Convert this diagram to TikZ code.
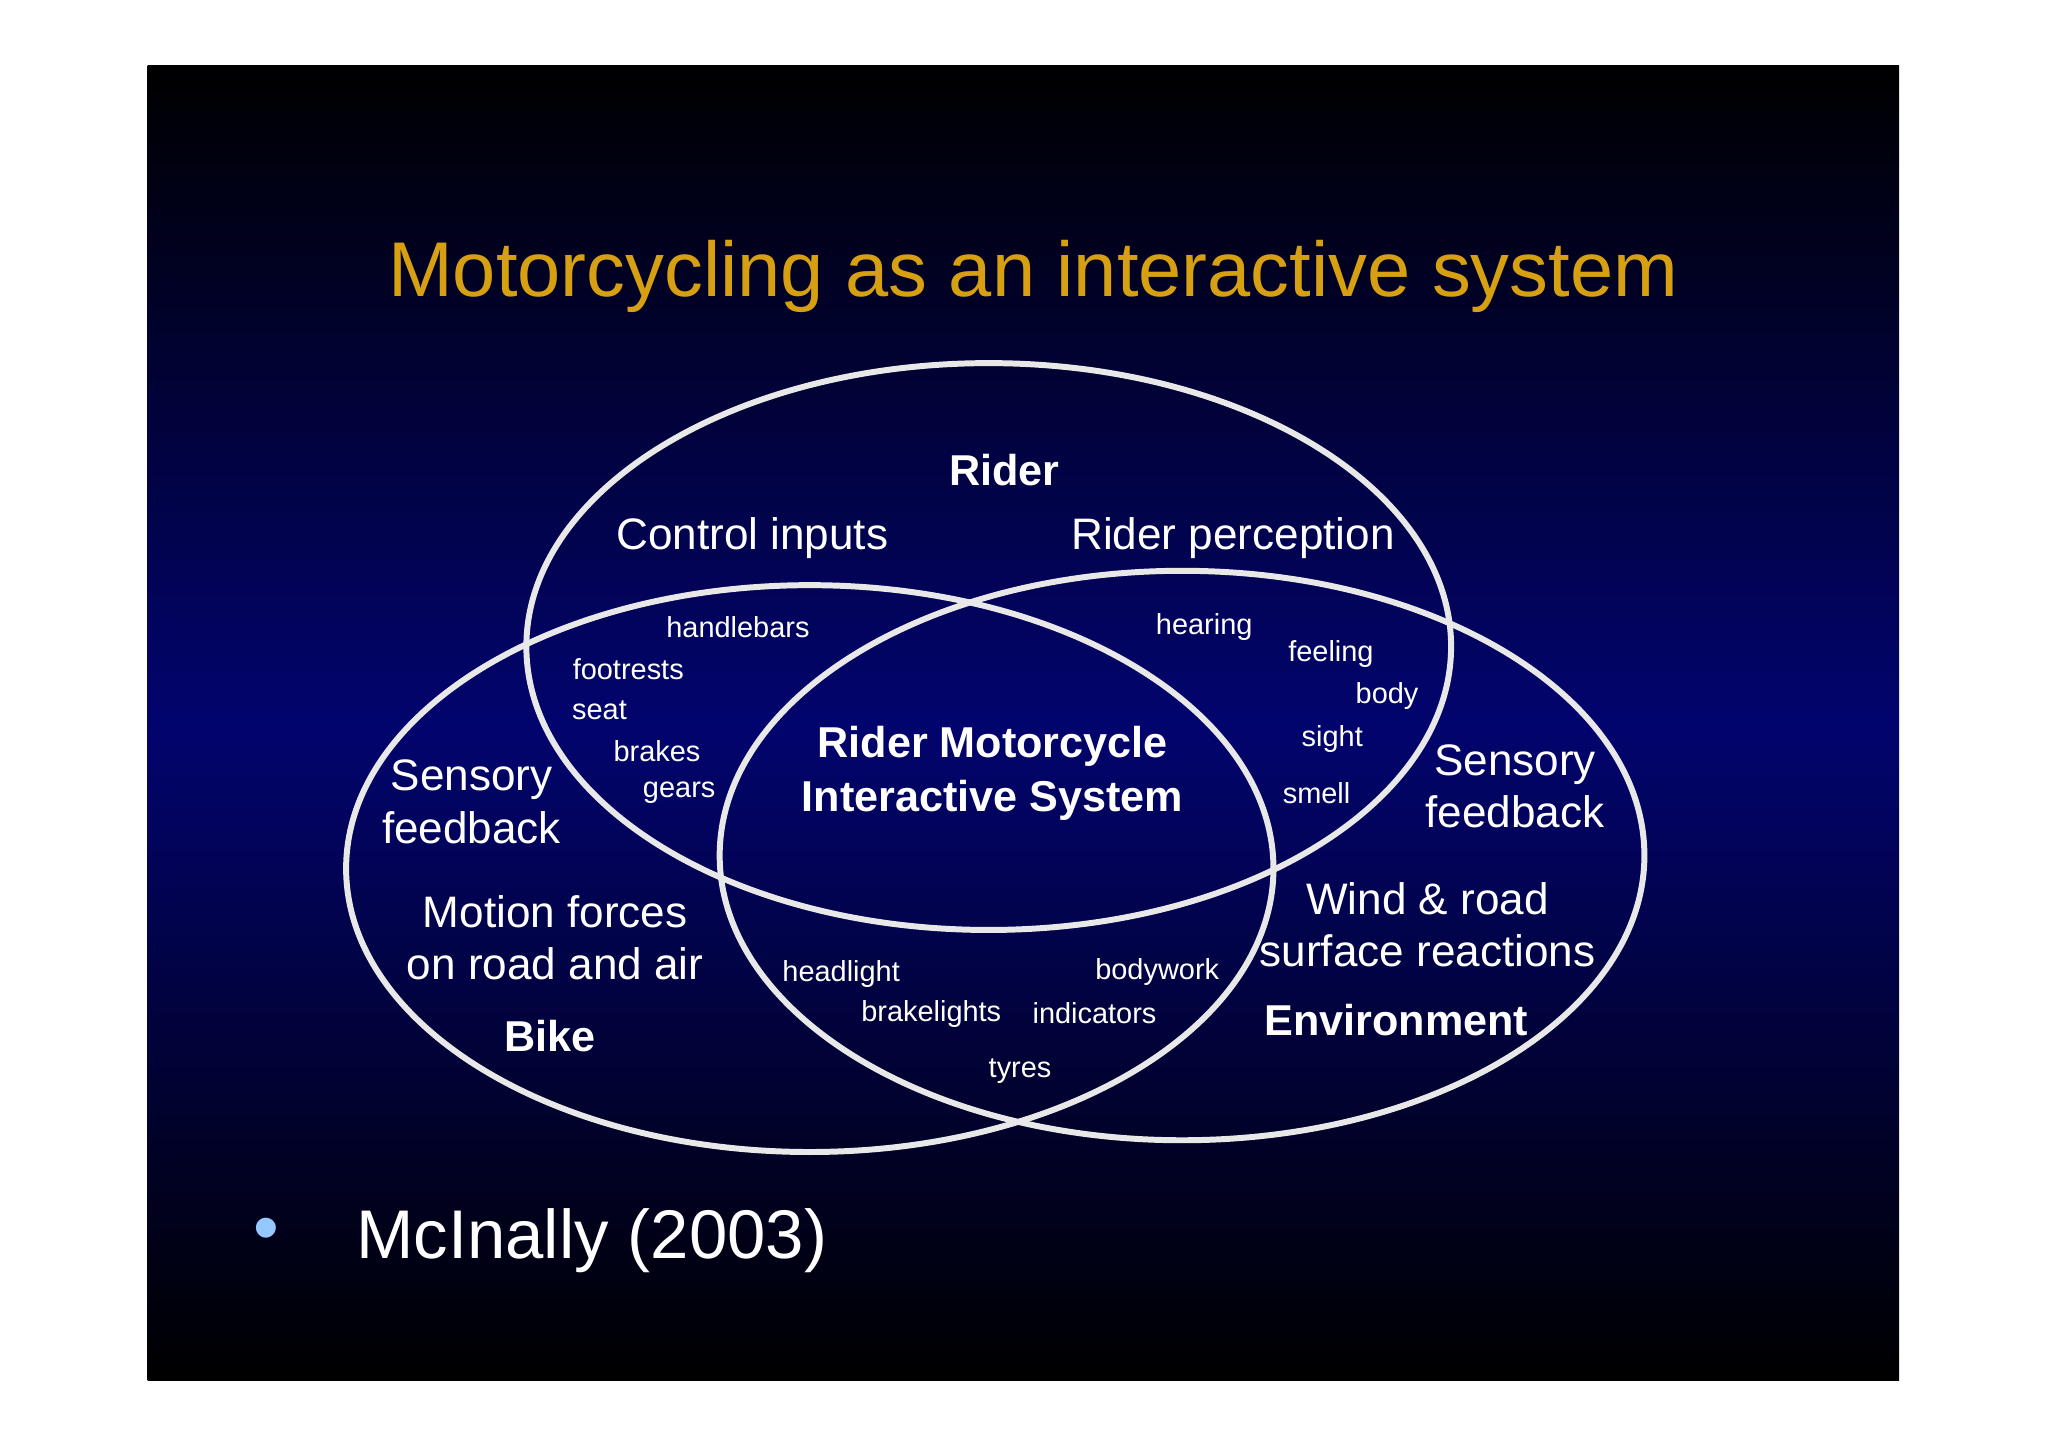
\documentclass[tikz,border=0pt]{standalone}
\usepackage{fontspec}
\setmainfont{Liberation Sans}
\definecolor{gold}{RGB}{214,160,18}
\definecolor{navy}{RGB}{2,4,110}
\definecolor{ring}{RGB}{232,232,232}
\definecolor{bul}{RGB}{150,200,255}
\begin{document}
\begin{tikzpicture}[x=0.01cm,y=-0.01cm,
  ringst/.style={draw=ring,line width=1.3pt},
  lbl/.style={text=white,font=\fontsize{9.6}{11}\selectfont,align=center,inner sep=0pt},
  bold/.style={lbl,font=\fontsize{9.4}{12}\selectfont\bfseries},
  sml/.style={text=white,font=\fontsize{6.3}{7}\selectfont,inner sep=0pt}]
\useasboundingbox[fill=white] (0,0) rectangle (1568,1108);
\shade[top color=black,bottom color=black,middle color=navy] (113,50) rectangle (1454,1057);
\node[text=gold,font=\fontsize{16.9}{20}\selectfont] (title) at (791,212) {Motorcycling as an interactive system};
\draw[ringst] (757,495) ellipse [x radius=354, y radius=217];
\draw[ringst] (620,665) ellipse [x radius=355, y radius=217];
\draw[ringst] (905,655) ellipse [x radius=354, y radius=218];
\node[bold] (rider) at (769,360) {Rider};
\node[lbl] (ci) at (576,412) {Control inputs};
\node[lbl] (rp) at (944,412) {Rider perception};
\node[sml] (hb) at (565,480) {handlebars};
\node[sml] (fr) at (481,512) {footrests};
\node[sml] (st) at (459,544) {seat};
\node[sml] (br) at (503,575) {brakes};
\node[sml] (gr) at (520,607) {gears};
\node[sml] (he) at (922,480) {hearing};
\node[sml] (fe) at (1019,501) {feeling};
\node[sml] (bo) at (1062,533) {body};
\node[sml] (si) at (1020,566) {sight};
\node[sml] (sm) at (1008,607) {smell};
\node[lbl,font=\fontsize{9.6}{11.4}\selectfont] (sfl) at (361,614) {Sensory\\feedback};
\node[lbl,font=\fontsize{9.6}{11.4}\selectfont] (sfr) at (1160,602) {Sensory\\feedback};
\node[bold,font=\fontsize{9.4}{11.6}\selectfont\bfseries] (rmis) at (760,592) {Rider Motorcycle\\Interactive System};
\node[lbl,font=\fontsize{9.6}{11.4}\selectfont] (mf) at (425,718) {Motion forces\\on road and air};
\node[bold] (bike) at (421,793) {Bike};
\node[lbl,font=\fontsize{9.6}{11.4}\selectfont] (wr) at (1093,708) {Wind \& road\\surface reactions};
\node[bold] (env) at (1069,781) {Environment};
\node[sml] (hl) at (644,746) {headlight};
\node[sml] (bw) at (886,744) {bodywork};
\node[sml] (bl) at (713,776) {brakelights};
\node[sml] (in) at (838,776) {indicators};
\node[sml] (ty) at (781,820) {tyres};
\node[text=bul,font=\fontsize{16}{18}\selectfont,inner sep=0pt] (bullet) at (204,946) {•};
\node[text=white,font=\fontsize{15}{18}\selectfont,anchor=west,inner sep=0pt] (ref) at (272,950) {McInally (2003)};
\end{tikzpicture}
\end{document}
